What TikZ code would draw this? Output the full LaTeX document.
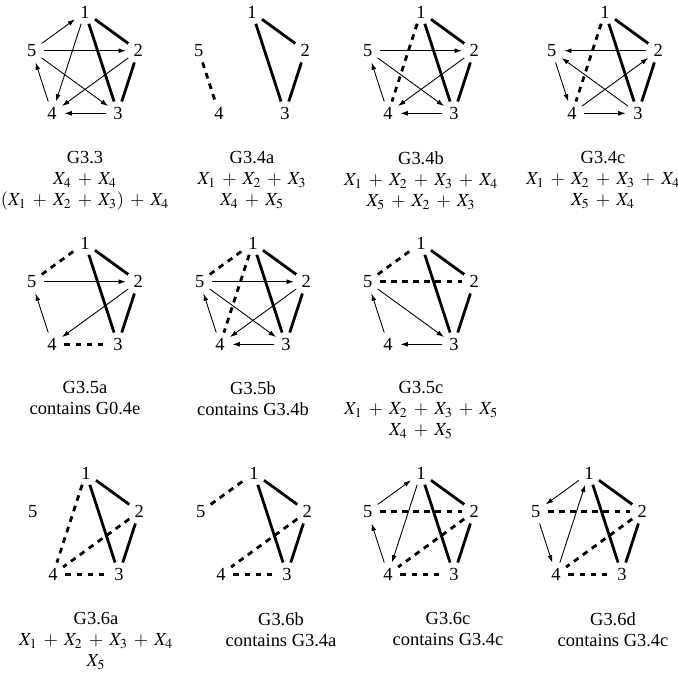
\documentclass[tikz,border=0pt]{standalone}
\usepackage{mathptmx}
\usepackage{fontspec}
\setmainfont{Liberation Serif}
\usetikzlibrary{arrows.meta}

% the five vertices of one graph, named <prefix>1 ... <prefix>5
\newcommand{\fivenodes}[1]{%
  \foreach \k/\a in {1/90,2/18,3/-54,4/-126,5/162}
    \node[vertex] (#1\k) at (\a:56) {\k};}

\begin{document}
\fontsize{10.5}{12}\selectfont
\medmuskip=6mu plus 2mu minus 2mu
\begin{tikzpicture}[x=0.02cm,y=0.02cm,>={Latex[length=4.2pt,width=2.8pt]}]
\tikzset{
  vertex/.style={circle, inner sep=0pt, minimum size=0.48cm},
  bond/.style={line width=1.6pt},
  link/.style={line width=1.6pt, dash pattern=on 3.3pt off 3pt},
  arc/.style={->, line width=.5pt},
  caption/.style={anchor=north, inner sep=0pt, align=center}
}
\useasboundingbox (0,0) rectangle (678,-681);

% row 1
\begin{scope}[shift={(85,-68)}]
  \fivenodes{a}
  \foreach \u/\v in {1/2,1/3,2/3} \draw[bond] (a\u) -- (a\v);
  \foreach \u/\v in {5/1,5/2,5/3,1/4,2/4,3/4,4/5} \draw[arc] (a\u) -- (a\v);
  \node[caption] (capa) at (0,-83) {G3.3\\$X_4+X_4$\\$(X_1+X_2+X_3)+X_4$};
\end{scope}

\begin{scope}[shift={(252,-68)}]
  \fivenodes{b}
  \foreach \u/\v in {1/2,1/3,2/3} \draw[bond] (b\u) -- (b\v);
  \draw[link] (b5) -- (b4);
  \node[caption] (capb) at (0,-83) {G3.4a\\$X_1+X_2+X_3$\\$X_4+X_5$};
\end{scope}

\begin{scope}[shift={(421,-68)}]
  \fivenodes{c}
  \foreach \u/\v in {1/2,1/3,2/3} \draw[bond] (c\u) -- (c\v);
  \draw[link] (c1) -- (c4);
  \foreach \u/\v in {5/2,5/3,2/4,3/4,4/5} \draw[arc] (c\u) -- (c\v);
  \node[caption] (capc) at (0,-83) {G3.4b\\$X_1+X_2+X_3+X_4$\\$X_5+X_2+X_3$};
\end{scope}

\begin{scope}[shift={(605,-68)}]
  \fivenodes{d}
  \foreach \u/\v in {1/2,1/3,2/3} \draw[bond] (d\u) -- (d\v);
  \draw[link] (d1) -- (d4);
  \foreach \u/\v in {2/5,3/5,4/2,4/3,5/4} \draw[arc] (d\u) -- (d\v);
  \node[caption] (capd) at (-2,-83) {G3.4c\\$X_1+X_2+X_3+X_4$\\$X_5+X_4$};
\end{scope}

% row 2
\begin{scope}[shift={(85,-299)}]
  \fivenodes{e}
  \foreach \u/\v in {1/2,1/3,2/3} \draw[bond] (e\u) -- (e\v);
  \foreach \u/\v in {5/1,4/3} \draw[link] (e\u) -- (e\v);
  \foreach \u/\v in {5/2,2/4,4/5} \draw[arc] (e\u) -- (e\v);
  \node[caption] (cape) at (0,-82) {G3.5a\\contains G0.4e};
\end{scope}

\begin{scope}[shift={(253,-299)}]
  \fivenodes{f}
  \foreach \u/\v in {1/2,1/3,2/3} \draw[bond] (f\u) -- (f\v);
  \foreach \u/\v in {5/1,1/4} \draw[link] (f\u) -- (f\v);
  \foreach \u/\v in {5/2,5/3,2/4,3/4,4/5} \draw[arc] (f\u) -- (f\v);
  \node[caption] (capf) at (0,-82) {G3.5b\\contains G3.4b};
\end{scope}

\begin{scope}[shift={(421,-299)}]
  \fivenodes{g}
  \foreach \u/\v in {1/2,1/3,2/3} \draw[bond] (g\u) -- (g\v);
  \foreach \u/\v in {5/1,5/2} \draw[link] (g\u) -- (g\v);
  \foreach \u/\v in {5/3,3/4,4/5} \draw[arc] (g\u) -- (g\v);
  \node[caption] (capg) at (0,-82) {G3.5c\\$X_1+X_2+X_3+X_5$\\$X_4+X_5$};
\end{scope}

% row 3
\begin{scope}[shift={(86,-529)}]
  \fivenodes{h}
  \foreach \u/\v in {1/2,1/3,2/3} \draw[bond] (h\u) -- (h\v);
  \foreach \u/\v in {1/4,2/4,4/3} \draw[link] (h\u) -- (h\v);
  \node[caption] (caph) at (10,-83) {G3.6a\\$X_1+X_2+X_3+X_4$\\$X_5$};
\end{scope}

\begin{scope}[shift={(254,-529)}]
  \fivenodes{i}
  \foreach \u/\v in {1/2,1/3,2/3} \draw[bond] (i\u) -- (i\v);
  \foreach \u/\v in {5/1,2/4,4/3} \draw[link] (i\u) -- (i\v);
  \node[caption] (capi) at (27,-83) {G3.6b\\contains G3.4a};
\end{scope}

\begin{scope}[shift={(421,-529)}]
  \fivenodes{j}
  \foreach \u/\v in {1/2,1/3,2/3} \draw[bond] (j\u) -- (j\v);
  \foreach \u/\v in {5/2,2/4,4/3} \draw[link] (j\u) -- (j\v);
  \foreach \u/\v in {5/1,1/4,4/5} \draw[arc] (j\u) -- (j\v);
  \node[caption] (capj) at (27,-83) {G3.6c\\contains G3.4c};
\end{scope}

\begin{scope}[shift={(589,-529)}]
  \fivenodes{k}
  \foreach \u/\v in {1/2,1/3,2/3} \draw[bond] (k\u) -- (k\v);
  \foreach \u/\v in {5/2,2/4,4/3} \draw[link] (k\u) -- (k\v);
  \foreach \u/\v in {1/5,4/1,5/4} \draw[arc] (k\u) -- (k\v);
  \node[caption] (capk) at (24,-83) {G3.6d\\contains G3.4c};
\end{scope}
\end{tikzpicture}
\end{document}
